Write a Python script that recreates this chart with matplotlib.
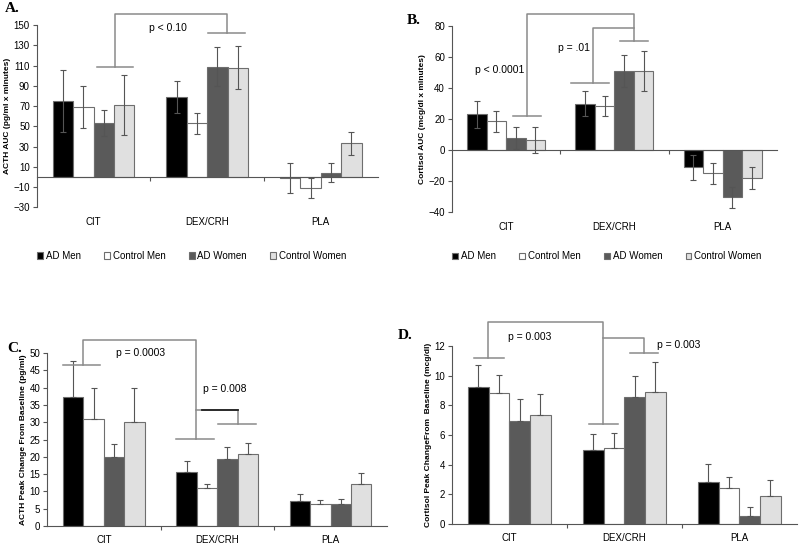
import numpy as np
import matplotlib
matplotlib.use("Agg")
from matplotlib import pyplot as plt
import matplotlib.transforms as mtransforms

plt.rcParams['font.family'] = ['Liberation Sans', 'DejaVu Sans']

groups = ['CIT', 'DEX/CRH', 'PLA']
series = ['AD Men', 'Control Men', 'AD Women', 'Control Women']
colors = ['#000000', '#ffffff', '#5a5a5a', '#e0e0e0']

# A. ACTH AUC
acth_auc = [[75, 79, -1], [69, 53, -11], [53, 109, 4], [71, 108, 33]]
acth_auc_err = [[31, 16, 15], [21, 10.5, 10], [13, 19, 9.5], [30, 21, 11.5]]
# B. Cortisol AUC
cort_auc = [[23, 30, -11], [18.5, 28.5, -15], [8, 51, -30.5], [6.5, 51, -18]]
cort_auc_err = [[8.5, 8, 8], [7, 6.5, 7], [7, 10.5, 6.5], [8.5, 13, 7]]
# C. ACTH peak change
acth_peak = [[37.2, 15.5, 7.3], [30.8, 10.9, 6.3], [20.0, 19.4, 6.3], [30.0, 20.7, 12.1]]
acth_peak_err = [[10.6, 3.3, 2.0], [9.2, 1.2, 1.3], [3.7, 3.5, 1.5], [10.0, 3.4, 3.2]]
# D. Cortisol peak change
cort_peak = [[9.2, 5.0, 2.85], [8.85, 5.1, 2.4], [6.95, 8.55, 0.55], [7.35, 8.9, 1.85]]
cort_peak_err = [[1.5, 1.05, 1.2], [1.2, 1.05, 0.75], [1.5, 1.45, 0.6], [1.4, 2.05, 1.1]]

fig = plt.figure(figsize=(8, 5.44), dpi=100)

width = 0.18
offsets = [-0.27, -0.09, 0.09, 0.27]
x = np.arange(len(groups))
LINE = '#8a8a8a'


def panel(rect, vals, errs, ylim, yticks, ylabel, two_sided, letter, letter_xy, legend_y=None):
    ax = fig.add_axes(rect)
    for i in range(4):
        e = np.array(errs[i])
        yerr = [e, e] if two_sided else [np.zeros_like(e), e]
        ax.bar(x + offsets[i], vals[i], width, color=colors[i], edgecolor='#6e6e6e',
               linewidth=0.8, label=series[i], zorder=2)
        ax.errorbar(x + offsets[i], vals[i], yerr=yerr, fmt='none', ecolor='#555555',
                    elinewidth=0.8, capsize=2.5, capthick=0.8, zorder=3)
    ax.set_xlim(-0.5, 2.5)
    ax.set_ylim(*ylim)
    ax.set_yticks(yticks)
    ax.tick_params(axis='y', labelsize=7, length=3, width=0.8, color='#555555', pad=2)
    for s in ['top', 'right']:
        ax.spines[s].set_visible(False)
    ax.spines['left'].set_color('#555555')
    ax.spines['bottom'].set_color('#555555')
    ax.spines['bottom'].set_position(('data', 0))
    ax.set_xticks([0.5, 1.5])
    ax.set_xticklabels([])
    ax.tick_params(axis='x', length=3, width=0.8, color='#555555', direction='out')
    tr = mtransforms.blended_transform_factory(ax.transData, ax.transAxes)
    for i, g in enumerate(groups):
        ax.text(i, -0.08, g, transform=tr, ha='center', va='center', fontsize=7)
    ax.set_ylabel(ylabel, fontsize=6.0, fontweight='bold', labelpad=1.5)
    fig.text(letter_xy[0], letter_xy[1], letter, family='Liberation Serif',
             fontweight='bold', fontsize=11, ha='left', va='center')
    if legend_y is not None:
        ax.legend(loc='upper left', bbox_to_anchor=(0.0, legend_y), ncol=4, frameon=False,
                  fontsize=7, handlelength=0.6, handleheight=0.6, handletextpad=0.3,
                  columnspacing=2.4, borderaxespad=0, borderpad=0)
    return ax


def path(ax, xs, ys, color=LINE, lw=1.1):
    ax.plot(xs, ys, color=color, lw=lw, clip_on=False, zorder=4)


# A
axA = panel([0.046, 0.619, 0.426, 0.335], acth_auc, acth_auc_err, (-30, 150),
            np.arange(-30, 151, 20), 'ACTH AUC (pg/ml x minutes)', True, 'A.', (0.006, 0.985), -0.24)
path(axA, [0.03, 0.35], [109, 109])
path(axA, [0.19, 0.19, 1.17, 1.17], [109, 161, 161, 142])
path(axA, [1.01, 1.33], [142, 142])
axA.text(0.65, 147, 'p < 0.10', fontsize=7.5, ha='center', va='center')

# B
axB = panel([0.565, 0.610, 0.406, 0.342], cort_auc, cort_auc_err, (-40, 80),
            np.arange(-40, 81, 20), 'Cortisol AUC (mcg/dl x minutes)', True, 'B.', (0.508, 0.963), -0.21)
path(axB, [0.066, 0.32], [21.8, 21.8])
path(axB, [0.19, 0.19, 1.18, 1.18], [21.8, 87.8, 87.8, 70.5])
path(axB, [1.05, 1.31], [70.5, 70.5])
path(axB, [0.6, 0.95], [43.4, 43.4])
path(axB, [0.80, 0.80, 1.18], [43.4, 78.5, 78.5])
axB.text(-0.06, 52, 'p < 0.0001', fontsize=7.5, ha='center', va='center')
axB.text(0.63, 65.6, 'p = .01', fontsize=7.5, ha='center', va='center')

# C
axC = panel([0.059, 0.033, 0.425, 0.318], acth_peak, acth_peak_err, (0, 50),
            np.arange(0, 51, 5), 'ACTH Peak Change From Baseline (pg/ml)', False, 'C.', (0.009, 0.36))
path(axC, [-0.36, -0.03], [46.6, 46.6])
path(axC, [-0.18, -0.18, 0.81, 0.81], [46.6, 53.8, 53.8, 25.2])
path(axC, [0.64, 0.97], [25.2, 25.2])
path(axC, [0.81, 1.18, 1.18], [33.6, 33.6, 29.6])
path(axC, [0.87, 1.18], [33.6, 33.6], color='#222222', lw=1.3)
path(axC, [1.01, 1.34], [29.6, 29.6])
axC.text(0.32, 50, 'p = 0.0003', fontsize=7.5, ha='center', va='center')
axC.text(1.07, 39.7, 'p = 0.008', fontsize=7.5, ha='center', va='center')

# D
axD = panel([0.565, 0.037, 0.431, 0.327], cort_peak, cort_peak_err, (0, 12),
            np.arange(0, 13, 2), 'Cortisol Peak ChangeFrom  Baseline (mcg/dl)', False, 'D.', (0.497, 0.384))
path(axD, [-0.31, -0.046], [11.19, 11.19])
path(axD, [-0.19, -0.19, 0.81, 0.81], [11.19, 13.6, 13.6, 6.77])
path(axD, [0.69, 0.94], [6.77, 6.77])
path(axD, [0.81, 1.17, 1.17], [12.56, 12.56, 11.55])
path(axD, [1.05, 1.29], [11.55, 11.55])
axD.text(0.18, 12.6, 'p = 0.003', fontsize=7.5, ha='center', va='center')
axD.text(1.47, 12.1, 'p = 0.003', fontsize=7.5, ha='center', va='center')

fig.savefig('out.png', dpi=100)
